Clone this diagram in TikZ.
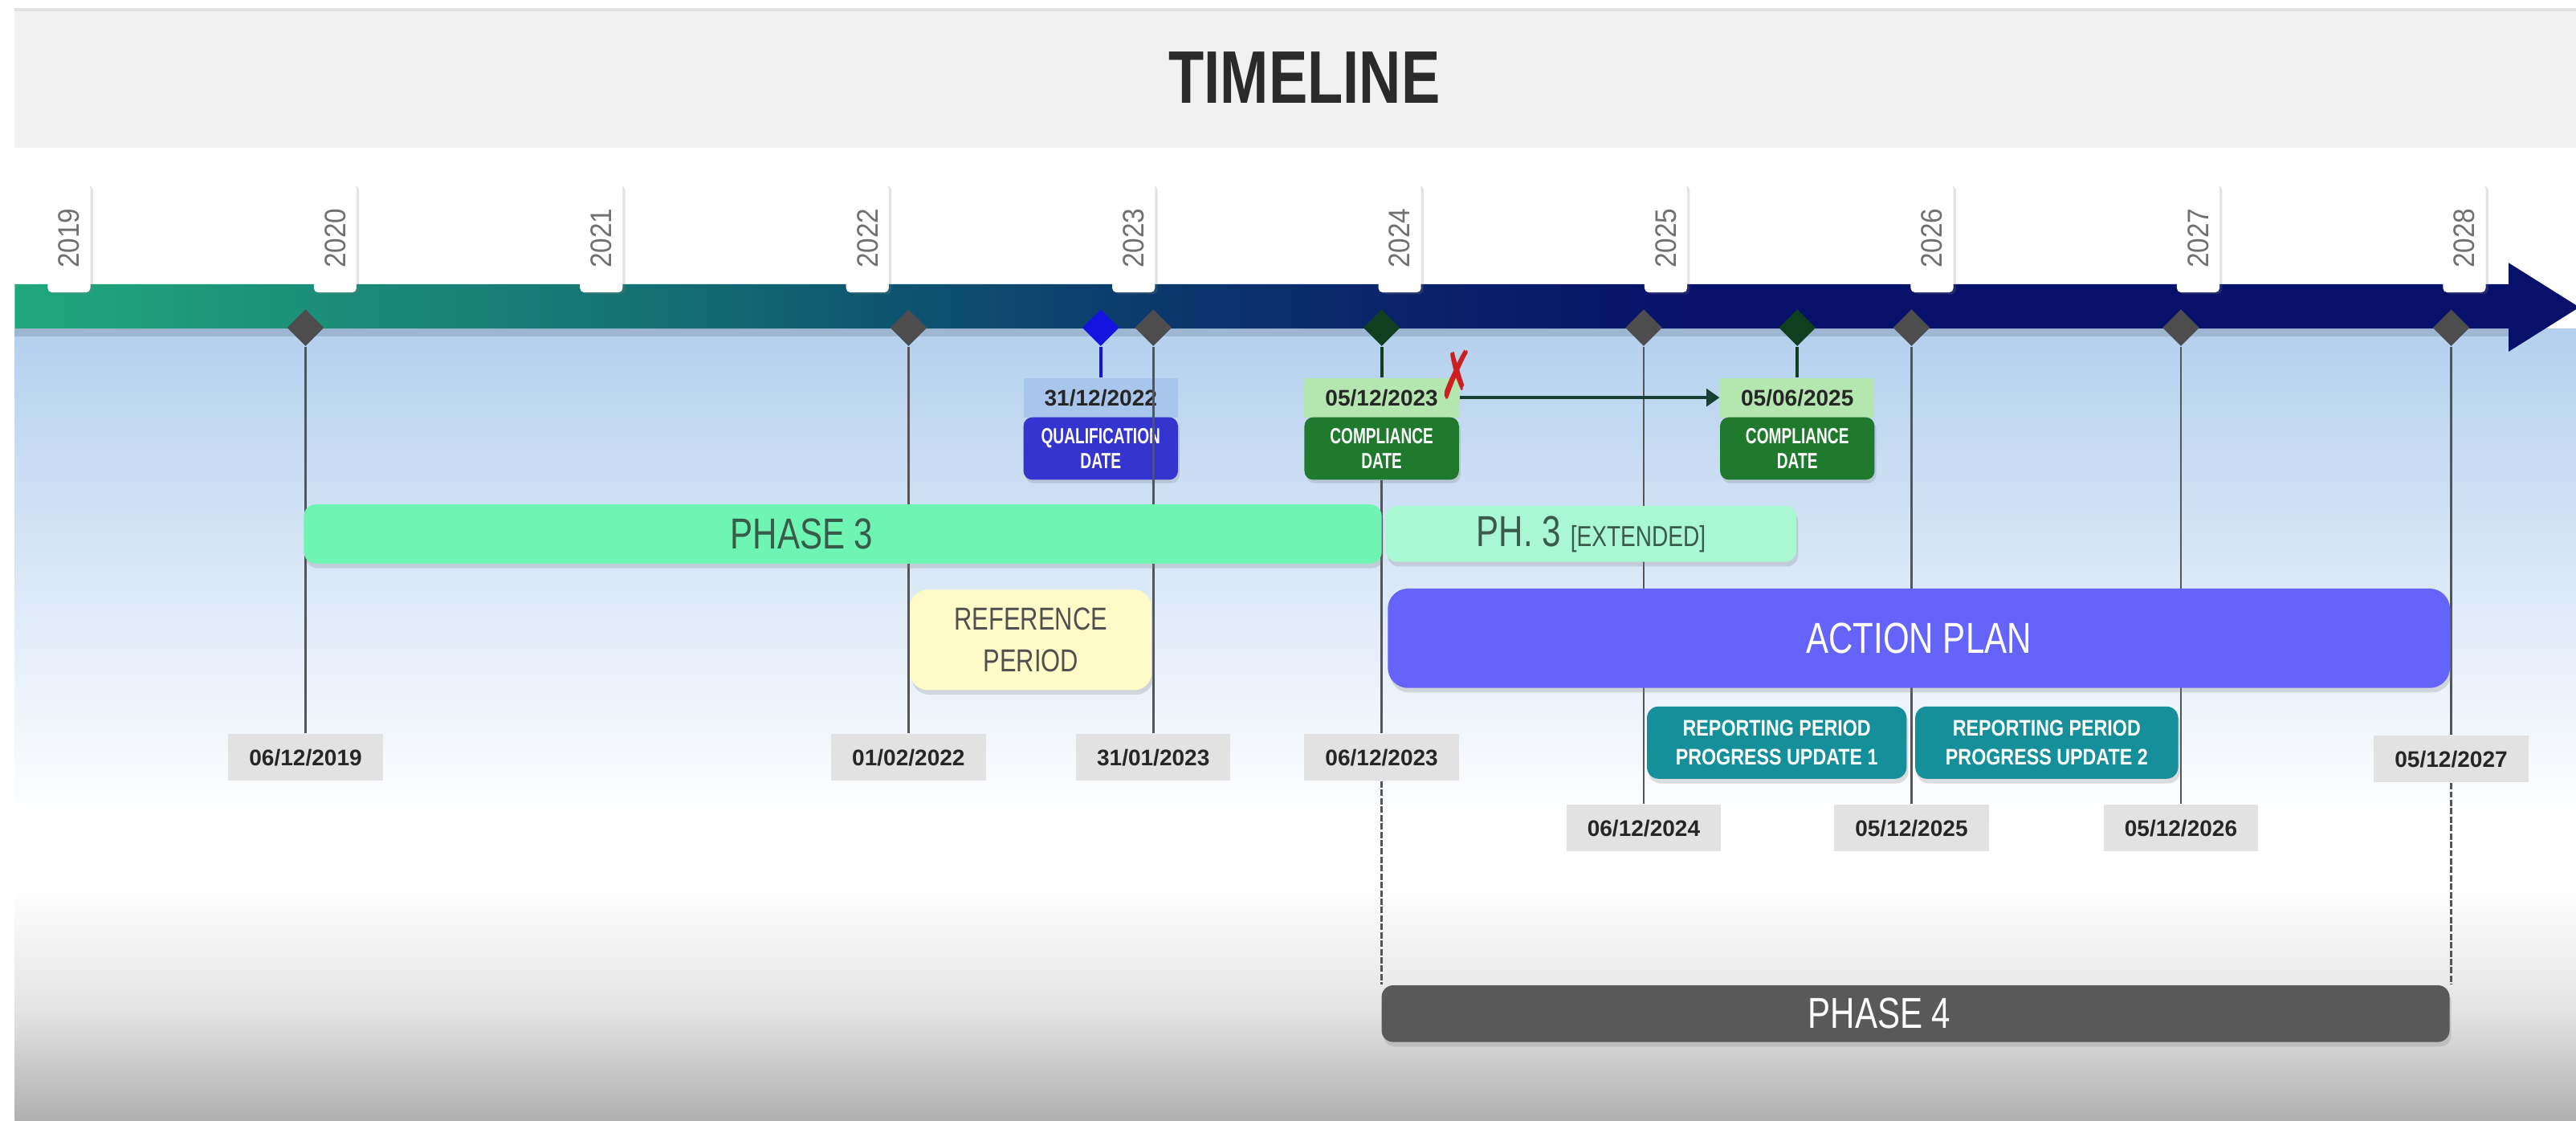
\documentclass[tikz,border=0pt]{standalone}
\usepackage{fontspec}
\usepackage{graphicx}
\setmainfont{Liberation Sans}
\newfontfamily\titlefont{Liberation Sans}[FakeStretch=0.78]
\newfontfamily\yearfont{Liberation Sans}[FakeStretch=0.9]
\newfontfamily\boxfont{Liberation Sans}[FakeStretch=0.7]
\newfontfamily\reptfont{Liberation Sans}[FakeStretch=0.83]
\newfontfamily\symbfont{DejaVu Sans}
\usetikzlibrary{calc, shapes.geometric, shadows, arrows.meta}

\definecolor{titlegray}{HTML}{F1F1F1}
\definecolor{titletext}{HTML}{2A2A2A}
\definecolor{skyblue}{HTML}{B4D0EE}
\definecolor{floorgray}{HTML}{B0B0B0}
\definecolor{bandgreen}{HTML}{20A87C}
\definecolor{bandteal}{HTML}{167874}
\definecolor{bandpetrol}{HTML}{0E5570}
\definecolor{bandblue}{HTML}{0B3A6C}
\definecolor{bandnavy}{HTML}{0A236B}
\definecolor{banddeep}{HTML}{08116A}
\definecolor{yeartext}{HTML}{707070}
\definecolor{markgray}{HTML}{4D4D4D}
\definecolor{markblue}{HTML}{1414E0}
\definecolor{markgreen}{HTML}{0F3F1F}
\definecolor{linegray}{HTML}{555555}
\definecolor{labelgray}{HTML}{E2E2E2}
\definecolor{qualstrip}{HTML}{A8C6EC}
\definecolor{qualblue}{HTML}{3434CE}
\definecolor{compstrip}{HTML}{B4E6B0}
\definecolor{compgreen}{HTML}{1F7A2D}
\definecolor{mint}{HTML}{6EF5B4}
\definecolor{mintlight}{HTML}{AAF8D2}
\definecolor{minttext}{HTML}{3A5A4A}
\definecolor{refyellow}{HTML}{FFFBC8}
\definecolor{reftext}{HTML}{505050}
\definecolor{planblue}{HTML}{6464FA}
\definecolor{repteal}{HTML}{15909A}
\definecolor{phasegray}{HTML}{595959}
\definecolor{arrowdark}{HTML}{173F33}
\definecolor{crossred}{HTML}{CC2020}

\pgfdeclarehorizontalshading{timeband}{100bp}{color(0bp)=(bandgreen); color(25bp)=(bandgreen);
  color(36bp)=(bandteal); color(42bp)=(bandpetrol); color(47bp)=(bandblue);
  color(52bp)=(bandnavy); color(58bp)=(banddeep); color(100bp)=(banddeep)}

\tikzset{
  yeartab/.style={fill=white, rounded corners=1.5pt, minimum width=0.52cm, minimum height=1.32cm,
    inner sep=0pt, text=yeartext, font=\yearfont\fontsize{10.3pt}{12pt}\selectfont,
    drop shadow={shadow xshift=0.9pt, shadow yshift=-0.6pt, opacity=0.22}},
  datemark/.style={diamond, fill=markgray, minimum size=0.45cm, inner sep=0pt},
  datelabel/.style={fill=labelgray, minimum width=1.88cm, minimum height=0.57cm, inner sep=0pt,
    text=black!85, font=\bfseries\fontsize{7.8pt}{9pt}\selectfont},
  tick/.style={draw=linegray, line width=0.7pt},
  stem/.style={line width=1.1pt},
  datestrip/.style={minimum width=1.88cm, minimum height=0.48cm, inner sep=0pt,
    text=black!85, font=\bfseries\fontsize{7.8pt}{9pt}\selectfont},
  eventbox/.style={rounded corners=3pt, minimum width=1.88cm, minimum height=0.76cm, inner sep=0pt,
    align=center, text=white, font=\boxfont\bfseries\fontsize{7.6pt}{8.8pt}\selectfont,
    drop shadow={shadow xshift=0.6pt, shadow yshift=-1.2pt, opacity=0.25}},
  bar/.style={rounded corners=4pt, inner sep=0pt,
    drop shadow={shadow xshift=0.6pt, shadow yshift=-1.6pt, opacity=0.25}},
  bartext/.style={inner sep=0pt, font=\titlefont\fontsize{15pt}{18pt}\selectfont},
  reptbox/.style={bar, fill=repteal, minimum height=0.88cm, align=center, text=white,
    font=\reptfont\bfseries\fontsize{7.8pt}{10.2pt}\selectfont},
}

\begin{document}
\begin{tikzpicture}[x=0.2mm, y=-0.2mm, >=Stealth]
  \useasboundingbox (0,0) rectangle (1568,682);

  % 背景
  \fill[white] (0,0) rectangle (1568,682);
  \fill[titlegray] (9,6) rectangle (1568,90);
  \draw[black!12, line width=1pt] (9,6) -- (1568,6);
  \shade[top color=skyblue, bottom color=white] (9,200) rectangle (1568,500);
  \shade[top color=white, bottom color=floorgray!35] (9,540) rectangle (1568,615);
  \shade[top color=floorgray!35, bottom color=floorgray] (9,615) rectangle (1568,682);

  % タイトル
  \node[text=titletext, font=\titlefont\bfseries\fontsize{25.8pt}{30pt}\selectfont] (title) at (794,47) {TIMELINE};

  % 時間軸
  \fill[black, opacity=0.12] (9,200) rectangle (1527,205);
  \shade[shading=timeband] (9,173) -- (1527,173) -- (1527,160) -- (1570,187)
    -- (1527,214) -- (1527,200) -- (9,200) -- cycle;

  % 年
  \foreach \yr [count=\i from 0] in {2019,...,2028}
    \node[yeartab] (y\yr) at ({42+162*\i},145) {\rotatebox{90}{\yr}};

  % 日付マーク
  \foreach \nm/\x in {a/186, b/553, c/702, d/1000.5, e/1163.5, f/1327.5, g/1492}
    \node[datemark] (m\nm) at (\x,199.5) {};
  \node[datemark, fill=markblue] (mq) at (670,199.5) {};
  \node[datemark, fill=markgreen] (mc1) at (841,199.5) {};
  \node[datemark, fill=markgreen] (mc2) at (1094,199.5) {};

  % 日付ラベル
  \node[datelabel] (la) at (186,461) {06/12/2019};
  \node[datelabel] (lb) at (553,461) {01/02/2022};
  \node[datelabel] (lc) at (702,461) {31/01/2023};
  \node[datelabel] (lc1) at (841,461) {06/12/2023};
  \node[datelabel] (ld) at (1000.5,504) {06/12/2024};
  \node[datelabel] (le) at (1163.5,504) {05/12/2025};
  \node[datelabel] (lf) at (1327.5,504) {05/12/2026};
  \node[datelabel] (lg) at (1492,462) {05/12/2027};

  % 期日
  \node[datestrip, fill=qualstrip] (q) at (670,242) {31/12/2022};
  \node[eventbox, fill=qualblue] (qbox) at (670,273) {QUALIFICATION\\DATE};
  \node[datestrip, fill=compstrip] (c1) at (841,242) {05/12/2023};
  \node[eventbox, fill=compgreen] (c1box) at (841,273) {COMPLIANCE\\DATE};
  \node[datestrip, fill=compstrip] (c2) at (1094,242) {05/06/2025};
  \node[eventbox, fill=compgreen] (c2box) at (1094,273) {COMPLIANCE\\DATE};

  % 縦線
  \foreach \nm in {a,b,c,d,e,f,g}
    \draw[tick] (m\nm.south) -- (m\nm.south |- l\nm.north);
  \draw[tick] (c1box.south) -- (lc1.north);
  \draw[stem, markblue] (mq.south) -- (q.north);
  \draw[stem, markgreen] (mc1.south) -- (c1.north);
  \draw[stem, markgreen] (mc2.south) -- (c2.north);

  % フェーズ
  \node[bar, fill=mint, minimum width=13.12cm, minimum height=0.72cm] (ph3) at (513,325) {};
  \node[bartext, text=minttext] (ph3t) at (488,325) {PHASE 3};
  \node[bar, fill=mintlight, minimum width=5cm, minimum height=0.68cm, text=minttext,
    font=\titlefont\fontsize{15pt}{18pt}\selectfont] (ph3x) at (968.5,325)
    {PH. 3 {\fontsize{10pt}{12pt}\selectfont[EXTENDED]}};
  \node[bar, fill=refyellow, rounded corners=6pt, minimum width=2.94cm, minimum height=1.22cm,
    align=center, text=reftext, font=\titlefont\fontsize{11pt}{14.2pt}\selectfont] (ref) at (627.5,389.5)
    {REFERENCE\\PERIOD};
  \node[bar, fill=planblue, rounded corners=7pt, minimum width=12.93cm, minimum height=1.21cm,
    text=white, font=\titlefont\fontsize{15pt}{18pt}\selectfont] (plan) at (1168,388.5) {ACTION PLAN};
  \node[reptbox, minimum width=3.16cm] (r1) at (1081.5,452) {REPORTING PERIOD\\PROGRESS UPDATE 1};
  \node[reptbox, minimum width=3.2cm] (r2) at (1245.8,452) {REPORTING PERIOD\\PROGRESS UPDATE 2};
  \node[bar, fill=phasegray, minimum width=13cm, minimum height=0.69cm] (ph4) at (1166,617) {};
  \node[bartext, text=white] (ph4t) at (1144,617) {PHASE 4};
  \draw[tick, dash pattern=on 2.2pt off 0.7pt] (lc1.south) -- (lc1.south |- ph4.north);
  \draw[tick, dash pattern=on 2.2pt off 0.7pt] (lg.south) -- (lg.south |- ph4.north);

  % 延期
  \draw[arrowdark, line width=1pt, -{Triangle[length=4.5pt,width=6pt]}] (c1.east) -- (c2.west);
  \node[text=crossred, inner sep=0pt, font=\symbfont\fontsize{23pt}{23pt}\selectfont] (cross) at (887,228)
    {\scalebox{0.6}[1]{✗}};
\end{tikzpicture}
\end{document}
